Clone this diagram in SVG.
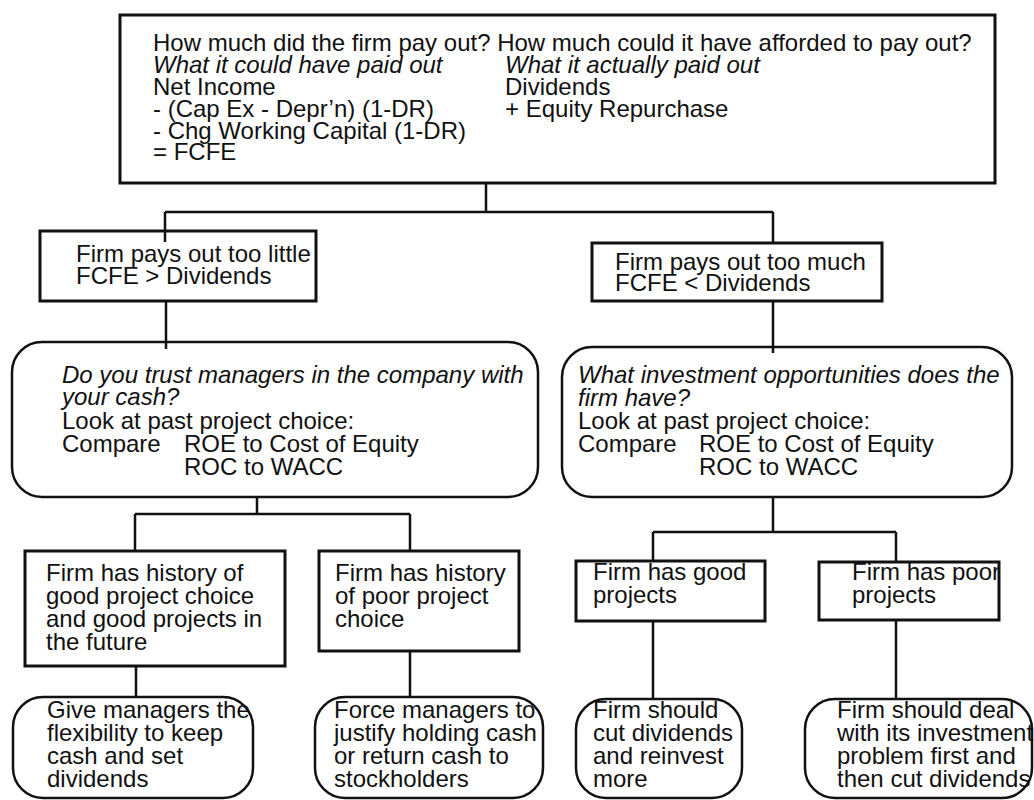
<svg xmlns="http://www.w3.org/2000/svg" width="1034" height="800" viewBox="0 0 1034 800">
<style>
.box{fill:#fff;stroke:#111;stroke-width:3}
.rbox{fill:#fff;stroke:#111;stroke-width:2.5}
.c{stroke:#111;stroke-width:2.5;fill:none}
text{font-family:"Liberation Sans",Arial,sans-serif;font-size:24px;fill:#111}
.i{font-style:italic}
</style>
<rect width="1034" height="800" fill="#fff"/>
<g id="n-top">
<rect class="box" x="120" y="15" width="875" height="168"/>
<text x="153" y="51">How much did the firm pay out? How much could it have afforded to pay out?</text>
<text x="153" y="73" class="i">What it could have paid out</text>
<text x="153" y="95">Net Income</text>
<text x="153" y="117">- (Cap Ex - Depr’n) (1-DR)</text>
<text x="153" y="139">- Chg Working Capital (1-DR)</text>
<text x="153" y="160">= FCFE</text>
<text x="505" y="73" class="i">What it actually paid out</text>
<text x="505" y="95">Dividends</text>
<text x="505" y="117">+ Equity Repurchase</text>
</g>
<g id="n-little">
<rect class="box" x="40" y="231" width="276" height="70"/>
<text x="76" y="262">Firm pays out too little</text>
<text x="76" y="284">FCFE &gt; Dividends</text>
</g>
<g id="n-much">
<rect class="box" x="592" y="243" width="290" height="58"/>
<text x="615" y="270">Firm pays out too much</text>
<text x="615" y="291">FCFE &lt; Dividends</text>
</g>
<g id="n-trust">
<rect class="rbox" x="12" y="342" width="526" height="155" rx="30" ry="30"/>
<text x="62" y="383" class="i">Do you trust managers in the company with</text>
<text x="62" y="405" class="i">your cash?</text>
<text x="62" y="429">Look at past project choice:</text>
<text x="62" y="452">Compare</text>
<text x="184" y="452">ROE to Cost of Equity</text>
<text x="184" y="475">ROC to WACC</text>
</g>
<g id="n-invest">
<rect class="rbox" x="562" y="347" width="450" height="150" rx="30" ry="30"/>
<text x="578" y="383" class="i">What investment opportunities does the</text>
<text x="578" y="406" class="i">firm have?</text>
<text x="578" y="429">Look at past project choice:</text>
<text x="578" y="452">Compare</text>
<text x="699" y="452">ROE to Cost of Equity</text>
<text x="699" y="475">ROC to WACC</text>
</g>
<g id="n-goodhist">
<rect class="box" x="25" y="551" width="260" height="115"/>
<text x="46" y="581">Firm has history of</text>
<text x="46" y="604">good project choice</text>
<text x="46" y="627">and good projects in</text>
<text x="46" y="650">the future</text>
</g>
<g id="n-poorhist">
<rect class="box" x="319" y="551" width="200" height="100"/>
<text x="335" y="581">Firm has history</text>
<text x="335" y="604">of poor project</text>
<text x="335" y="627">choice</text>
</g>
<g id="n-goodproj">
<rect class="box" x="576" y="561" width="189" height="60"/>
<text x="593" y="580">Firm has good</text>
<text x="593" y="603">projects</text>
</g>
<g id="n-poorproj">
<rect class="box" x="819" y="562" width="180" height="58"/>
<text x="852" y="580">Firm has poor</text>
<text x="852" y="603">projects</text>
</g>
<g id="n-give">
<rect class="rbox" x="13" y="697" width="240" height="101" rx="30" ry="30"/>
<text x="47" y="718">Give managers the</text>
<text x="47" y="741">flexibility to keep</text>
<text x="47" y="764">cash and set</text>
<text x="47" y="787">dividends</text>
</g>
<g id="n-force">
<rect class="rbox" x="315" y="697" width="228" height="101" rx="30" ry="30"/>
<text x="334" y="718">Force managers to</text>
<text x="334" y="741">justify holding cash</text>
<text x="334" y="764">or return cash to</text>
<text x="334" y="787">stockholders</text>
</g>
<g id="n-cut">
<rect class="rbox" x="576" y="699" width="166" height="99" rx="30" ry="30"/>
<text x="593" y="718">Firm should</text>
<text x="593" y="741">cut dividends</text>
<text x="593" y="764">and reinvest</text>
<text x="593" y="787">more</text>
</g>
<g id="n-deal">
<rect class="rbox" x="805" y="699" width="227" height="99" rx="30" ry="30"/>
<text x="837" y="718">Firm should deal</text>
<text x="837" y="741">with its investment</text>
<text x="837" y="764">problem first and</text>
<text x="837" y="787">then cut dividends</text>
</g>
<g id="connectors">
<path class="c" d="M486 183V212M165 212H773M165 212V242M773 212V243"/>
<path class="c" d="M166 301V349M773 301V353"/>
<path class="c" d="M257 497V514M135 514H410M135 514V551M410 514V551"/>
<path class="c" d="M136 666V697M410 651V697"/>
<path class="c" d="M773 497V532M653 532H896M653 532V561M896 532V562"/>
<path class="c" d="M653 621V699M896 620V699"/>
</g>
</svg>
